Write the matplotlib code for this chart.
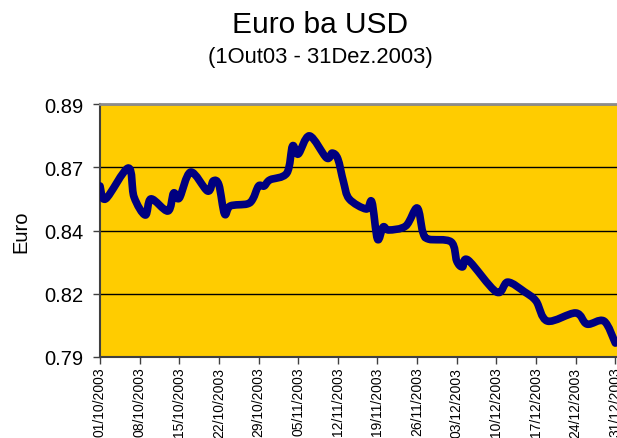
import matplotlib
matplotlib.use("Agg")
import matplotlib.pyplot as plt
import matplotlib.dates as mdates
import numpy as np
import pandas as pd
from matplotlib.path import Path
from matplotlib.patches import PathPatch

plt.rcParams["font.family"] = ["Liberation Sans", "DejaVu Sans"]

# EUR per USD
dates = [
    "2003-10-01", "2003-10-02", "2003-10-06", "2003-10-07", "2003-10-09",
    "2003-10-10", "2003-10-13", "2003-10-14", "2003-10-15", "2003-10-17",
    "2003-10-20", "2003-10-21", "2003-10-22", "2003-10-23", "2003-10-24",
    "2003-10-27", "2003-10-28", "2003-10-29", "2003-10-30", "2003-10-31",
    "2003-11-03", "2003-11-04", "2003-11-05", "2003-11-07", "2003-11-10",
    "2003-11-11", "2003-11-12", "2003-11-13", "2003-11-14", "2003-11-17",
    "2003-11-18", "2003-11-19", "2003-11-20", "2003-11-21", "2003-11-24",
    "2003-11-26", "2003-11-27", "2003-11-28", "2003-12-02", "2003-12-03",
    "2003-12-04", "2003-12-05", "2003-12-10", "2003-12-12", "2003-12-15",
    "2003-12-17", "2003-12-19", "2003-12-24", "2003-12-26", "2003-12-29",
    "2003-12-31",
]
rates = [
    0.8576, 0.8525, 0.8647, 0.8533, 0.8461,
    0.8525, 0.8477, 0.8548, 0.8528, 0.8631,
    0.8556, 0.8596, 0.8580, 0.8465, 0.8497,
    0.8505, 0.8525, 0.8576, 0.8576, 0.8600,
    0.8627, 0.8734, 0.8702, 0.8774, 0.8687,
    0.8706, 0.8683, 0.8592, 0.8525, 0.8485,
    0.8513, 0.8366, 0.8414, 0.8402, 0.8418,
    0.8489, 0.8394, 0.8366, 0.8355, 0.8279,
    0.8256, 0.8283, 0.8157, 0.8196, 0.8157,
    0.8121, 0.8042, 0.8074, 0.8030, 0.8042,
    0.7955,
]

tick_dates = pd.date_range("2003-10-01", "2003-12-31", freq="7D")
y_ticks = [0.79, 0.815, 0.84, 0.865, 0.89]
y_labels = ["0.79", "0.82", "0.84", "0.87", "0.89"]


def smooth_path(xs, ys):
    # Excel-style smoothed line: bezier segments through every data point
    pts = np.column_stack([xs, ys])
    padded = np.vstack([pts[0], pts, pts[-1]])
    verts = [pts[0]]
    codes = [Path.MOVETO]
    for i in range(len(pts) - 1):
        p0, p1, p2, p3 = padded[i], padded[i + 1], padded[i + 2], padded[i + 3]
        verts += [p1 + (p2 - p0) / 6, p2 - (p3 - p1) / 6, p2]
        codes += [Path.CURVE4] * 3
    return Path(verts, codes)


x = mdates.date2num(pd.to_datetime(dates))

fig = plt.figure(figsize=(6.17, 4.39), dpi=100)
ax = fig.add_axes([100 / 617, 81 / 439, 521 / 617, 253 / 439])
ax.set_facecolor("#FFCC00")

ax.add_patch(PathPatch(smooth_path(x, rates), facecolor="none",
                       edgecolor="#000080", lw=5.5, joinstyle="round",
                       capstyle="round", zorder=3))

ax.set_xlim(pd.Timestamp("2003-10-01"), pd.Timestamp("2004-01-01"))
ax.set_ylim(0.79, 0.89)
ax.set_yticks(y_ticks)
ax.set_yticklabels(y_labels)
ax.set_xticks(tick_dates)
ax.xaxis.set_major_formatter(mdates.DateFormatter("%d/%m/%Y"))
plt.setp(ax.get_xticklabels(), rotation=90, ha="center", va="top")

ax.yaxis.grid(True, color="black", lw=1)
ax.set_axisbelow(True)

ax.spines["top"].set_color("#8c8c8c")
ax.spines["top"].set_linewidth(2)
ax.spines["right"].set_visible(False)
for side in ("left", "bottom"):
    ax.spines[side].set_color("#404040")
    ax.spines[side].set_linewidth(1.5)

ax.tick_params(axis="y", direction="out", length=5, width=1, pad=7,
               labelsize=14.5, color="#404040")
ax.tick_params(axis="x", direction="out", length=5, width=1, pad=2,
               labelsize=10, color="#404040")

ax.set_ylabel("Euro", fontsize=14.5, labelpad=10)

fig.text(320 / 617, 1 - 33 / 439, "Euro ba USD", fontsize=21.5,
         ha="center", va="baseline")
fig.text(320 / 617, 1 - 63 / 439, "(1Out03 - 31Dez.2003)", fontsize=15.8,
         ha="center", va="baseline")

fig.savefig("out.png", dpi=100)
